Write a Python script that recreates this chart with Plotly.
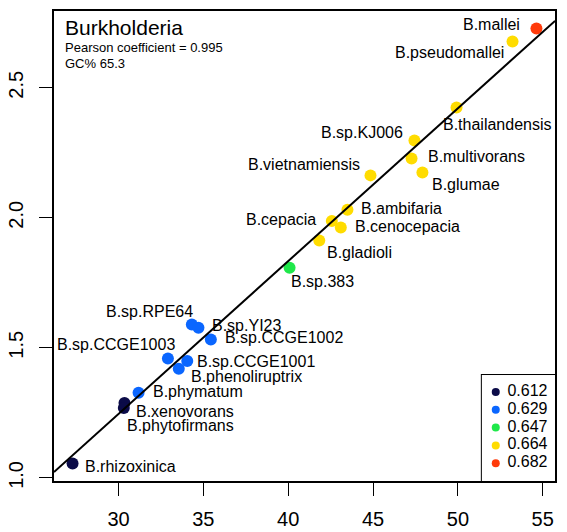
import numpy as np
import plotly.graph_objects as go

# Burkholderia genomes: x and y values per strain, plus colour level index
names = ["B.mallei", "B.pseudomallei", "B.thailandensis", "B.sp.KJ006", "B.multivorans",
         "B.glumae", "B.vietnamiensis", "B.ambifaria", "B.cepacia", "B.cenocepacia",
         "B.gladioli", "B.sp.383", "B.sp.RPE64", "B.sp.YI23", "B.sp.CCGE1002",
         "B.sp.CCGE1003", "B.sp.CCGE1001", "B.phenoliruptrix", "B.phymatum",
         "B.xenovorans", "B.phytofirmans", "B.rhizoxinica"]
x_vals = [54.63, 53.22, 49.92, 47.44, 47.27,
          47.91, 44.85, 43.49, 42.57, 43.10,
          41.83, 40.08, 34.32, 34.71, 35.44,
          32.91, 34.05, 33.55, 31.18,
          30.35, 30.31, 27.29]
y_vals = [2.728, 2.678, 2.424, 2.297, 2.228,
          2.174, 2.163, 2.031, 1.988, 1.963,
          1.913, 1.808, 1.590, 1.577, 1.532,
          1.459, 1.449, 1.420, 1.327,
          1.288, 1.269, 1.055]
level_idx = [4, 3, 3, 3, 3,
             3, 3, 3, 3, 3,
             3, 2, 1, 1, 1,
             1, 1, 1, 1,
             0, 0, 0]
level_labels = ["0.612", "0.629", "0.647", "0.664", "0.682"]
level_colors = ["#0b0b48", "#0a66ff", "#1fe84a", "#ffdc00", "#ff3a0a"]

x_ticks = [30, 35, 40, 45, 50, 55]
y_ticks = [1.0, 1.5, 2.0, 2.5]
y_tick_text = ["1.0", "1.5", "2.0", "2.5"]

title = "Burkholderia"
subtitle = ["Pearson coefficient = 0.995", "GC% 65.3"]

# label placement per strain: (anchor, x shift px, y shift px)
label_pos = {
    "B.mallei": ("right", -14, 4), "B.pseudomallei": ("right", -7, -11),
    "B.thailandensis": ("left", -16, -17), "B.sp.KJ006": ("right", -9, 8),
    "B.multivorans": ("left", 14, 2), "B.glumae": ("left", 8, -12),
    "B.vietnamiensis": ("right", -9, 11), "B.ambifaria": ("left", 12, 1),
    "B.cepacia": ("right", -14, 1), "B.cenocepacia": ("left", 12, 1),
    "B.gladioli": ("left", 6, -12), "B.sp.383": ("left", -1, -14),
    "B.sp.RPE64": ("right", 3, 13), "B.sp.YI23": ("left", 12, 2),
    "B.sp.CCGE1002": ("left", 12, 2), "B.sp.CCGE1003": ("right", 9, 14),
    "B.sp.CCGE1001": ("left", 8, 0), "B.phenoliruptrix": ("left", 10, -8),
    "B.phymatum": ("left", 12, 1), "B.xenovorans": ("left", 10, -9),
    "B.phytofirmans": ("left", 1, -18), "B.rhizoxinica": ("left", 10, -3),
}

FONT = "Liberation Sans, Arial, Helvetica, sans-serif"
x_arr = np.array(x_vals)
y_arr = np.array(y_vals)
lv = np.array(level_idx)

# axis limits padded 4% like base R graphics
def padded(a):
    span = a.max() - a.min()
    return [a.min() - 0.04 * span, a.max() + 0.04 * span]

x_range = padded(x_arr)
y_range = padded(y_arr)

fig = go.Figure()

for i, (lab, col) in enumerate(zip(level_labels, level_colors)):
    m = lv == i
    fig.add_trace(go.Scatter(
        x=x_arr[m], y=y_arr[m], mode="markers",
        marker=dict(color=col, size=12, line=dict(width=0)),
        showlegend=False, hoverinfo="skip", cliponaxis=False))

# least-squares fit line across the full x range
slope, intercept = np.polyfit(x_arr, y_arr, 1)
lx = np.array(x_range)
fig.add_trace(go.Scatter(x=lx, y=slope * lx + intercept, mode="lines",
                         line=dict(color="black", width=2),
                         showlegend=False, hoverinfo="skip"))

# legend box in the bottom-right corner, drawn on its own small axes
LEG_X0, LEG_Y1 = 0.854, 0.2255
n_lev = len(level_labels)
leg_y = [1 - (0.16 + k * 0.168) for k in range(n_lev)]
fig.add_trace(go.Scatter(
    x=[0.19] * n_lev, y=leg_y, mode="markers",
    marker=dict(color=level_colors, size=8, line=dict(width=0)),
    xaxis="x2", yaxis="y2", showlegend=False, hoverinfo="skip", cliponaxis=False))
fig.add_trace(go.Scatter(
    x=[0.35] * n_lev, y=leg_y, mode="text", text=level_labels,
    textposition="middle right",
    textfont=dict(family=FONT, size=16, color="black"),
    xaxis="x2", yaxis="y2", showlegend=False, hoverinfo="skip", cliponaxis=False))
fig.add_shape(type="rect", xref="paper", yref="paper", x0=LEG_X0, x1=1, y0=0, y1=LEG_Y1,
              line=dict(color="black", width=2), fillcolor="white", layer="below")

for n, xv, yv in zip(names, x_vals, y_vals):
    anc, dx, dy = label_pos[n]
    fig.add_annotation(x=xv, y=yv, text=n, showarrow=False,
                       xanchor=anc, yanchor="middle", xshift=dx, yshift=dy,
                       font=dict(family=FONT, size=16, color="black"))

fig.add_annotation(xref="paper", yref="paper", x=0.018, y=0.964, text=title,
                   showarrow=False, xanchor="left", yanchor="middle",
                   font=dict(family=FONT, size=21, color="black"))
for txt, yy in zip(subtitle, [0.9234, 0.889]):
    fig.add_annotation(xref="paper", yref="paper", x=0.018, y=yy, text=txt,
                       showarrow=False, xanchor="left", yanchor="middle",
                       font=dict(family=FONT, size=13, color="black"))

axis_common = dict(showgrid=False, zeroline=False, showline=True, mirror=True,
                   linecolor="black", linewidth=2, ticks="outside", ticklen=13,
                   tickwidth=1.3, tickcolor="black", automargin=False,
                   tickfont=dict(family=FONT, size=20, color="black"))
hidden = dict(visible=False, range=[0, 1], fixedrange=True)

fig.update_layout(
    width=567, height=532,
    margin=dict(l=54, r=12, t=11, b=51),
    paper_bgcolor="white", plot_bgcolor="white",
    showlegend=False,
    xaxis=dict(range=x_range, tickvals=x_ticks, ticklabelstandoff=6, **axis_common),
    yaxis=dict(range=y_range, tickvals=y_ticks, ticktext=y_tick_text,
               tickangle=-90, ticklabelstandoff=8, **axis_common),
    xaxis2=dict(domain=[LEG_X0, 1], anchor="y2", **hidden),
    yaxis2=dict(domain=[0, LEG_Y1], anchor="x2", **hidden),
)

fig.write_html("out.html")
